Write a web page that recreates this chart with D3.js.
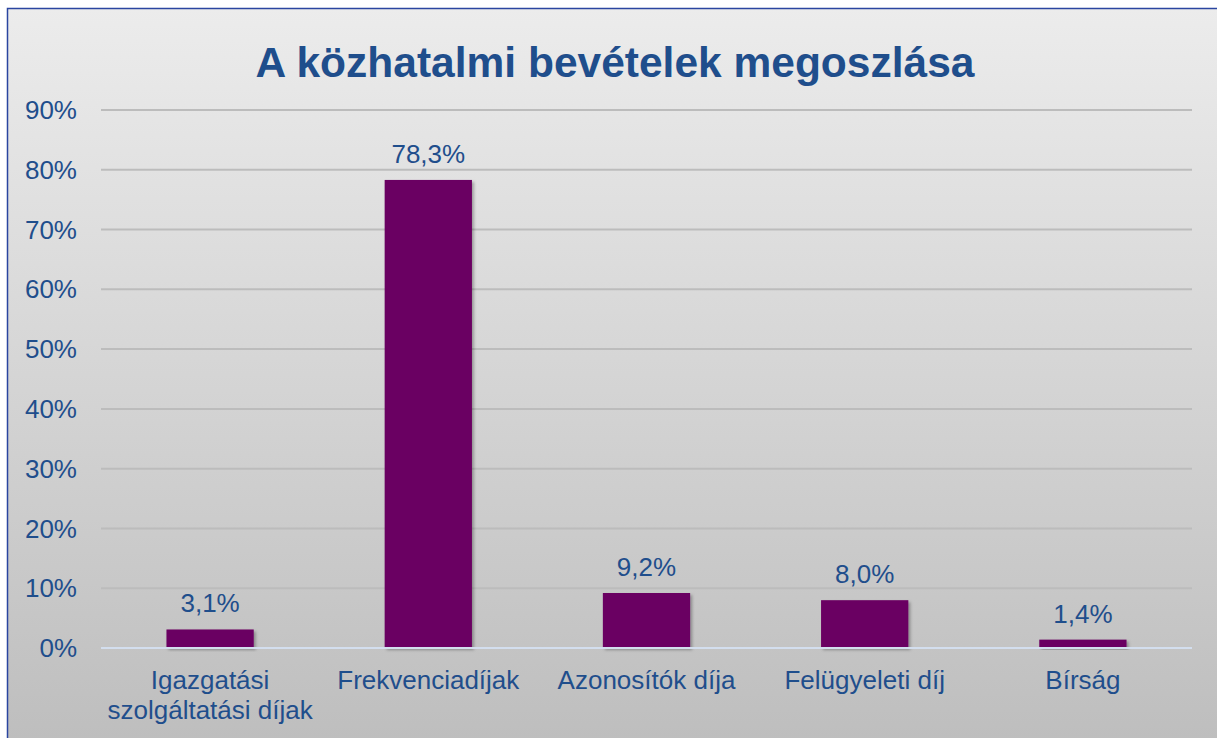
<!DOCTYPE html>
<html>
<head>
<meta charset="utf-8">
<script src="https://cdn.jsdelivr.net/npm/d3@7"></script>
<style>
  html, body { margin: 0; padding: 0; background: #fff; }
  svg { display: block; font-family: "Liberation Sans", Arial, sans-serif; }
</style>
</head>
<body>
<svg id="chart" width="1217" height="738"></svg>
<script>
// chart data
var categories = ["Igazgatási\nszolgáltatási díjak", "Frekvenciadíjak", "Azonosítók díja", "Felügyeleti díj", "Bírság"];
var values = [3.1, 78.3, 9.2, 8.0, 1.4];
var yTicks = [0, 10, 20, 30, 40, 50, 60, 70, 80, 90];
var title = "A közhatalmi bevételek megoszlása";

var svg = d3.select('#chart'),
    textColor = '#1f4e8c',
    fs = 26,
    margin = {left: 101, right: 25, top: 110, bottom: 90},
    W = 1217, H = 738;

var defs = svg.append('defs');
var grad = defs.append('linearGradient').attr('id', 'bg').attr('x1', 0).attr('y1', 0).attr('x2', 0).attr('y2', 1);
grad.append('stop').attr('offset', '0%').attr('stop-color', '#ececec');
grad.append('stop').attr('offset', '100%').attr('stop-color', '#bdbdbd');

var shadow = defs.append('filter').attr('id', 'shadow').attr('x', '-10%').attr('y', '-10%').attr('width', '130%').attr('height', '130%');
shadow.append('feDropShadow').attr('dx', 2).attr('dy', 2).attr('stdDeviation', 1.5)
  .attr('flood-color', '#000').attr('flood-opacity', 0.3);

// frame
svg.append('rect')
  .attr('x', 7.5).attr('y', 8.5)
  .attr('width', W + 10).attr('height', H + 10)
  .attr('fill', 'url(#bg)')
  .attr('stroke', '#2a45a0').attr('stroke-width', 1.5);

var x = d3.scaleBand()
  .domain(categories)
  .range([margin.left, 1192])
  .paddingInner(0.6).paddingOuter(0.3);

var y = d3.scaleLinear()
  .domain([0, 90])
  .range([648, 110]);

// gridlines
svg.append('g').selectAll('line.grid')
  .data(yTicks.filter(function(d) { return d > 0; }))
  .enter().append('line')
  .attr('class', 'grid')
  .attr('x1', margin.left).attr('x2', 1192)
  .attr('y1', function(d) { return y(d); })
  .attr('y2', function(d) { return y(d); })
  .attr('stroke', '#bcbcbc').attr('stroke-width', 2);

// y tick labels
svg.append('g').selectAll('text.ytick')
  .data(yTicks)
  .enter().append('text')
  .attr('class', 'ytick')
  .attr('x', 77).attr('y', function(d) { return y(d); })
  .attr('dy', '0.35em')
  .attr('text-anchor', 'end')
  .attr('fill', textColor)
  .attr('font-size', fs)
  .text(function(d) { return d + '%'; });

// bars
svg.append('g').selectAll('rect.bar')
  .data(values)
  .enter().append('rect')
  .attr('class', 'bar')
  .attr('x', function(d, i) { return x(categories[i]); })
  .attr('width', x.bandwidth())
  .attr('y', function(d) { return y(d); })
  .attr('height', function(d) { return y(0) - y(d); })
  .attr('fill', '#6b0062')
  .attr('filter', 'url(#shadow)');

// baseline
svg.append('line')
  .attr('x1', margin.left).attr('x2', 1192)
  .attr('y1', y(0)).attr('y2', y(0))
  .attr('stroke', '#d3deee').attr('stroke-width', 2);

// value labels
svg.append('g').selectAll('text.val')
  .data(values)
  .enter().append('text')
  .attr('class', 'val')
  .attr('x', function(d, i) { return x(categories[i]) + x.bandwidth() / 2; })
  .attr('y', function(d) { return y(d) - 17; })
  .attr('text-anchor', 'middle')
  .attr('fill', textColor)
  .attr('font-size', fs)
  .text(function(d) { return d.toFixed(1).replace('.', ',') + '%'; });

// category labels
svg.append('g').selectAll('text.cat')
  .data(categories)
  .enter().append('text')
  .attr('class', 'cat')
  .attr('x', function(d) { return x(d) + x.bandwidth() / 2; })
  .attr('y', 689)
  .attr('text-anchor', 'middle')
  .attr('fill', textColor)
  .attr('font-size', fs)
  .each(function(d) {
    var t = d3.select(this);
    d.split('\n').forEach(function(line, i) {
      t.append('tspan')
        .attr('x', t.attr('x'))
        .attr('dy', i === 0 ? 0 : 30)
        .text(line);
    });
  });

// title
svg.append('text')
  .attr('x', 615).attr('y', 77)
  .attr('text-anchor', 'middle')
  .attr('fill', textColor)
  .attr('font-size', 42.5)
  .attr('font-weight', 'bold')
  .text(title);
</script>
</body>
</html>
